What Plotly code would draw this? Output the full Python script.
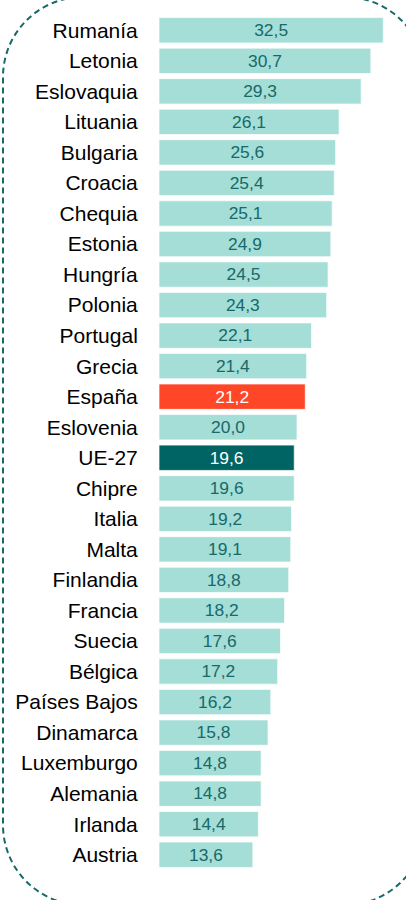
import plotly.graph_objects as go

countries = ["Rumanía", "Letonia", "Eslovaquia", "Lituania", "Bulgaria", "Croacia",
             "Chequia", "Estonia", "Hungría", "Polonia", "Portugal", "Grecia", "España",
             "Eslovenia", "UE-27", "Chipre", "Italia", "Malta", "Finlandia", "Francia",
             "Suecia", "Bélgica", "Países Bajos", "Dinamarca", "Luxemburgo", "Alemania",
             "Irlanda", "Austria"]
values = [32.5, 30.7, 29.3, 26.1, 25.6, 25.4, 25.1, 24.9, 24.5, 24.3, 22.1, 21.4, 21.2,
          20.0, 19.6, 19.6, 19.2, 19.1, 18.8, 18.2, 17.6, 17.2, 16.2, 15.8, 14.8, 14.8,
          14.4, 13.6]

LIGHT = "#A4DED6"
SPAIN = "#FF4626"
EU = "#006464"
TXT = "#17696A"

colors = [SPAIN if c == "España" else EU if c == "UE-27" else LIGHT for c in countries]
tcolors = ["white" if c in ("España", "UE-27") else TXT for c in countries]

W, H = 406, 900
L, R, T, B = 159, 10, 15, 30
pw, ph = W - L - R, H - T - B

fig = go.Figure(go.Bar(
    x=values, y=countries, orientation="h",
    marker=dict(color=colors, line=dict(color="rgba(255,255,255,0.7)", width=1)),
    text=values, texttemplate="%{x:.1f}", textposition="inside",
    insidetextanchor="middle",
    textfont=dict(color=tcolors, size=18, family="Liberation Sans, Arial"),
    cliponaxis=False, hoverinfo="skip",
))

# rounded dashed frame (pixel coords -> paper coords)
def px(x):
    return (x - L) / pw

def py(y):
    return (H - B - y) / ph

x0, x1, y0, y1, r = 3, 425, -3, 905, 80
k = 0.5523 * r
pts = [
    ("M", [(x0 + r, y0)]),
    ("L", [(x1 - r, y0)]),
    ("C", [(x1 - r + k, y0), (x1, y0 + r - k), (x1, y0 + r)]),
    ("L", [(x1, y1 - r)]),
    ("C", [(x1, y1 - r + k), (x1 - r + k, y1), (x1 - r, y1)]),
    ("L", [(x0 + r, y1)]),
    ("C", [(x0 + r - k, y1), (x0, y1 - r + k), (x0, y1 - r)]),
    ("L", [(x0, y0 + r)]),
    ("C", [(x0, y0 + r - k), (x0 + r - k, y0), (x0 + r, y0)]),
]
path = ""
for cmd, ps in pts:
    path += cmd + " " + " ".join(f"{px(a):.5f},{py(b):.5f}" for a, b in ps) + " "
path += "Z"

fig.add_shape(type="path", path=path, xref="paper", yref="paper",
              line=dict(color="#17696A", width=2, dash="6px,4px"),
              fillcolor="rgba(0,0,0,0)", layer="above")

fig.update_layout(
    width=W, height=H,
    margin=dict(l=L, r=R, t=T, b=B, pad=0),
    paper_bgcolor="white", plot_bgcolor="white",
    separators=",.",
    bargap=0.17,
    showlegend=False,
    font=dict(family="Liberation Sans, Arial", color="black"),
    xaxis=dict(range=[0, pw / 6.9], visible=False, fixedrange=True),
    yaxis=dict(range=[len(countries) - 0.5, -0.5], showgrid=False, zeroline=False,
               showline=False, ticks="outside", ticklen=16,
               tickcolor="rgba(0,0,0,0)", tickfont=dict(size=21, color="black"),
               fixedrange=True),
)

fig.write_html("out.html", config={"displayModeBar": False},
               post_script="document.body.style.margin='0';document.body.style.overflow='hidden';")
